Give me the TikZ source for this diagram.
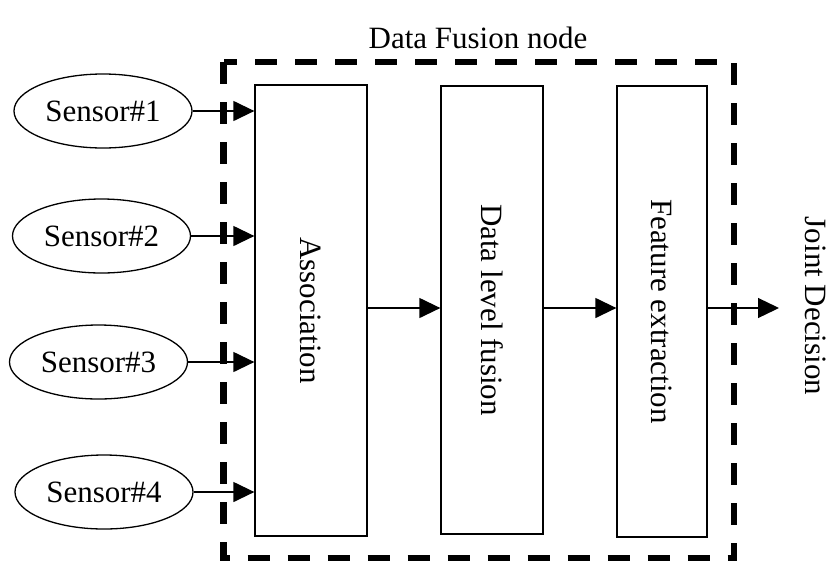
\documentclass[tikz,border=0pt]{standalone}
\usepackage{fontspec}
\setmainfont{Liberation Serif}
\usetikzlibrary{shapes.geometric,arrows.meta}
\begin{document}
\begin{tikzpicture}[x=1pt,y=-1pt,
  font=\fontsize{31}{37}\selectfont,
  sensor/.style={draw,ellipse,line width=1.3pt,minimum width=178pt,minimum height=74pt,inner sep=0pt},
  stage/.style={draw,line width=1.3pt,inner sep=0pt,rotate=-90},
  flow/.style={line width=1.3pt,-{Triangle[length=21pt,width=20pt]}},
  boundary/.style={line width=6.5pt,dash pattern=on 22pt off 18pt}]
\useasboundingbox (0,0) rectangle (832,563);
% boundary
\draw[boundary] (223.5,62) rectangle (734,558);
\node (title) at (478,38) {Data Fusion node};
% sensors
\node[sensor] (s1) at (103,111) {Sensor\#1};
\node[sensor] (s2) at (101.5,236) {Sensor\#2};
\node[sensor] (s3) at (98.5,362) {Sensor\#3};
\node[sensor] (s4) at (104,492) {Sensor\#4};
% stages (rotated: page-left side = south, page-right side = north)
\node[stage,minimum width=451pt,minimum height=112pt] (assoc) at (311,310.5) {Association};
\node[stage,minimum width=448pt,minimum height=102pt] (dlf) at (492,310) {Data level fusion};
\node[stage,minimum width=451pt,minimum height=90pt] (fe) at (662,311.5) {Feature extraction};
\node[rotate=-90] (jd) at (816,306) {Joint Decision};
\coordinate (out) at (779,308);
% connectors
\foreach \s in {s1,s2,s3,s4}
  \draw[flow] (\s.east) -- (\s.east -| assoc.south);
\draw[flow] (assoc.north |- out) -- (dlf.south |- out);
\draw[flow] (dlf.north |- out) -- (fe.south |- out);
\draw[flow] (fe.north |- out) -- (out);
\end{tikzpicture}
\end{document}
